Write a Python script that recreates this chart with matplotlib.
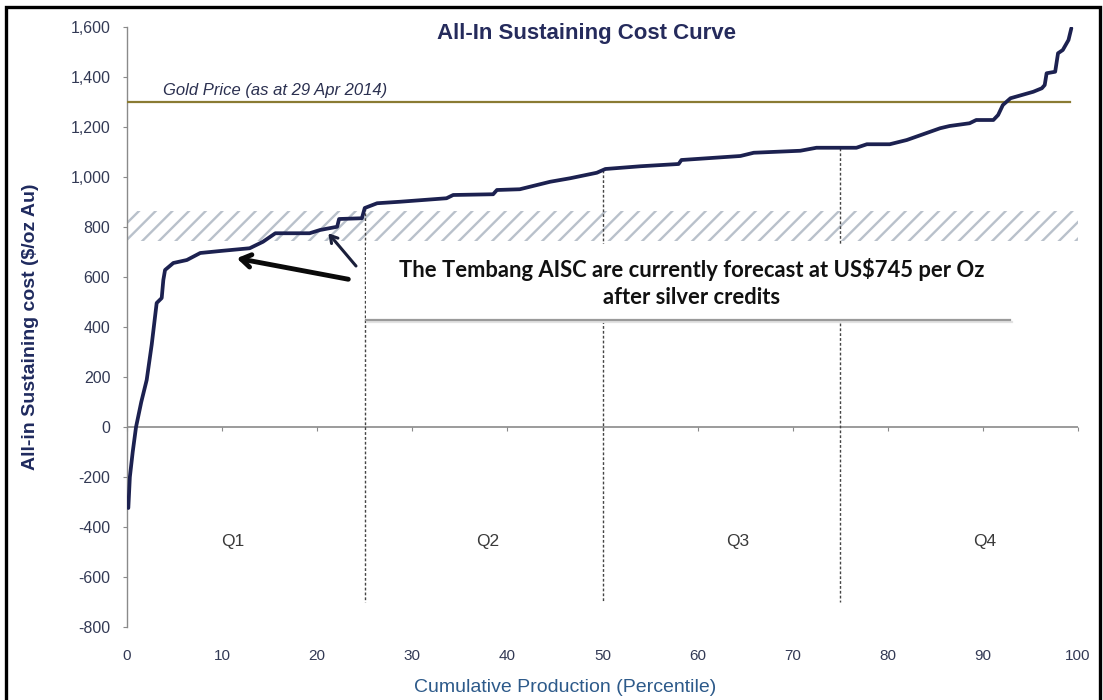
import numpy as np
import matplotlib
matplotlib.use("Agg")
import matplotlib.pyplot as plt
from matplotlib.patches import Rectangle
from matplotlib.ticker import FuncFormatter

# Cumulative production percentile and all-in sustaining cost ($/oz Au)
pct = [0.14, 0.3, 0.6, 0.95, 1.5, 2.07, 2.6, 3.12, 3.65, 3.82, 4.0, 4.87, 6.3, 7.7,
       9.8, 12.9, 14.3, 15.6, 19.2, 20.3, 22.1, 22.3, 24.7, 25.0, 26.3, 28.7, 33.6,
       34.3, 38.5, 38.9, 41.3, 44.5, 46.6, 49.4, 50.3, 54.0, 58.0, 58.3, 64.5, 65.9,
       70.8, 72.5, 76.7, 77.8, 80.2, 82.0, 85.5, 86.5, 88.6, 89.3, 91.1, 91.6, 92.1,
       92.9, 95.3, 96.2, 96.5, 96.7, 97.6, 97.9, 98.4, 99.0, 99.3]
cost = [-324, -200, -100, 0, 100, 188, 330, 496, 516, 588, 628, 656, 668, 696,
        704, 715, 741, 775, 775, 788, 801, 832, 835, 876, 895, 901, 915,
        928, 931, 948, 951, 981, 995, 1017, 1032, 1043, 1052, 1068, 1084, 1097,
        1105, 1117, 1117, 1131, 1131, 1148, 1195, 1204, 1215, 1228, 1228, 1248, 1288,
        1315, 1341, 1355, 1368, 1415, 1421, 1495, 1508, 1548, 1595]

gold_price = 1300
gold_label = "Gold Price (as at 29 Apr 2014)"
tembang_band = (745, 865)
quartile_edges = [25, 50, 75]
quartile_labels = ["Q1", "Q2", "Q3", "Q4"]
quartile_label_x = [11.15, 37.96, 64.2, 90.2]
yticks = list(range(-800, 1601, 200))
xticks = list(range(0, 101, 10))

NAVY = "#1c2150"
TICK_TXT = "#333a55"
GRID_GRAY = "#8a8a8a"
HATCH = "#b9c1cb"

plt.rcParams["font.family"] = ["Liberation Sans", "DejaVu Sans"]
plt.rcParams["hatch.color"] = HATCH
plt.rcParams["hatch.linewidth"] = 1.7

fig = plt.figure(figsize=(11.03, 7.0), dpi=100)
ax = fig.add_axes([127 / 1103, 1 - 627 / 700, (1078 - 127) / 1103, 600 / 700])
ax.set_xlim(0, 100)
ax.set_ylim(-800, 1600)

# Hatched Tembang cost band
ax.add_patch(Rectangle((0, tembang_band[0]), 100, tembang_band[1] - tembang_band[0],
                       facecolor="none", edgecolor=HATCH, hatch="//",
                       linewidth=0, zorder=1))

# Zero line with small tick marks
ax.axhline(0, color=GRID_GRAY, lw=1.2, zorder=2)
sec = ax.secondary_xaxis(1 / 3)
sec.set_xticks(xticks)
sec.set_xticklabels([])
sec.tick_params(axis="x", direction="out", length=3, color=GRID_GRAY)
sec.spines["bottom"].set_visible(False)
sec.spines["top"].set_visible(False)

# Quartile separators
for q in quartile_edges:
    top = np.interp(q, pct, cost)
    ax.plot([q, q], [top, -700], color="#444444", lw=1.0, ls=(0, (2, 1.5)), zorder=2)

for lbl, qx in zip(quartile_labels, quartile_label_x):
    ax.text(qx, -459, lbl, ha="center", va="center", fontsize=12.5, color="#3a3a3a")

# Gold price line
ax.plot([0, 99.2], [gold_price, gold_price], color="#8a7b33", lw=1.6, zorder=3)
ax.text(3.8, 1348, gold_label, ha="left", va="center", fontsize=12,
        style="italic", color="#2b3050")

# Cost curve
ax.plot(pct, cost, color=NAVY, lw=2.7, zorder=5, solid_joinstyle="round",
        solid_capstyle="round")

# Callout box
ax.add_patch(Rectangle((25.1, 430), 67.8, 300, facecolor="white", edgecolor="none", zorder=3))
ax.plot([25.1, 92.9], [428, 428], color="#9a9a9a", lw=1.6, zorder=4)
ax.plot([25.3, 93.1], [420, 420], color="#e2e2e2", lw=1.6, zorder=3.9)
ax.text(59.4, 628, "The Tembang AISC are currently forecast at US$745 per Oz",
        ha="center", va="center", fontsize=15.8, family=["Lato", "DejaVu Sans"],
        weight="bold", color="#111111", zorder=6)
ax.text(59.4, 516, "after silver credits", ha="center", va="center", fontsize=15.8,
        family=["Lato", "DejaVu Sans"], weight="bold", color="#111111", zorder=6)

# Arrows pointing at the Tembang position on the curve
ax.annotate("", xy=(11.54, 675), xytext=(23.27, 591),
            arrowprops=dict(arrowstyle="->,head_length=0.7,head_width=0.45",
                            color="#0a0a0a", lw=3.5, shrinkA=0, shrinkB=0), zorder=7)
ax.annotate("", xy=(21.17, 775), xytext=(24.08, 644),
            arrowprops=dict(arrowstyle="->,head_length=0.5,head_width=0.3",
                            color="#1a1f3a", lw=2.2, shrinkA=0, shrinkB=0), zorder=7)

# Axes styling
for s in ["top", "right", "bottom"]:
    ax.spines[s].set_visible(False)
ax.spines["left"].set_color(GRID_GRAY)
ax.spines["left"].set_linewidth(1.0)
ax.set_yticks(yticks)
ax.yaxis.set_major_formatter(FuncFormatter(lambda v, p: f"{int(v):,}"))
ax.tick_params(axis="y", direction="out", length=3, color=GRID_GRAY, pad=9,
               labelsize=11.5, labelcolor=TICK_TXT)
ax.set_xticks(xticks)
ax.tick_params(axis="x", length=0, pad=16, labelsize=11, labelcolor=TICK_TXT)

ax.set_ylabel("All-in Sustaining cost ($/oz Au)", fontsize=14, weight="bold",
              color="#1f2a5e")
ax.yaxis.set_label_coords(-(127 - 39) / 951, 0.5)
fig.text(565 / 1103, 1 - 688 / 700, "Cumulative Production (Percentile)",
         ha="center", va="center", fontsize=14, color="#2d5a8a")

fig.text(586.5 / 1103, 1 - 33 / 700, "All-In Sustaining Cost Curve", ha="center",
         va="center", fontsize=16, weight="bold", color="#252b5c")

# Frame around the whole figure
fig.add_artist(Rectangle((6 / 1103, -0.05), (1100 - 6) / 1103, 1.05 - 7 / 700,
                         transform=fig.transFigure, facecolor="none",
                         edgecolor="black", lw=2.4))

fig.savefig("out.png", dpi=100)
